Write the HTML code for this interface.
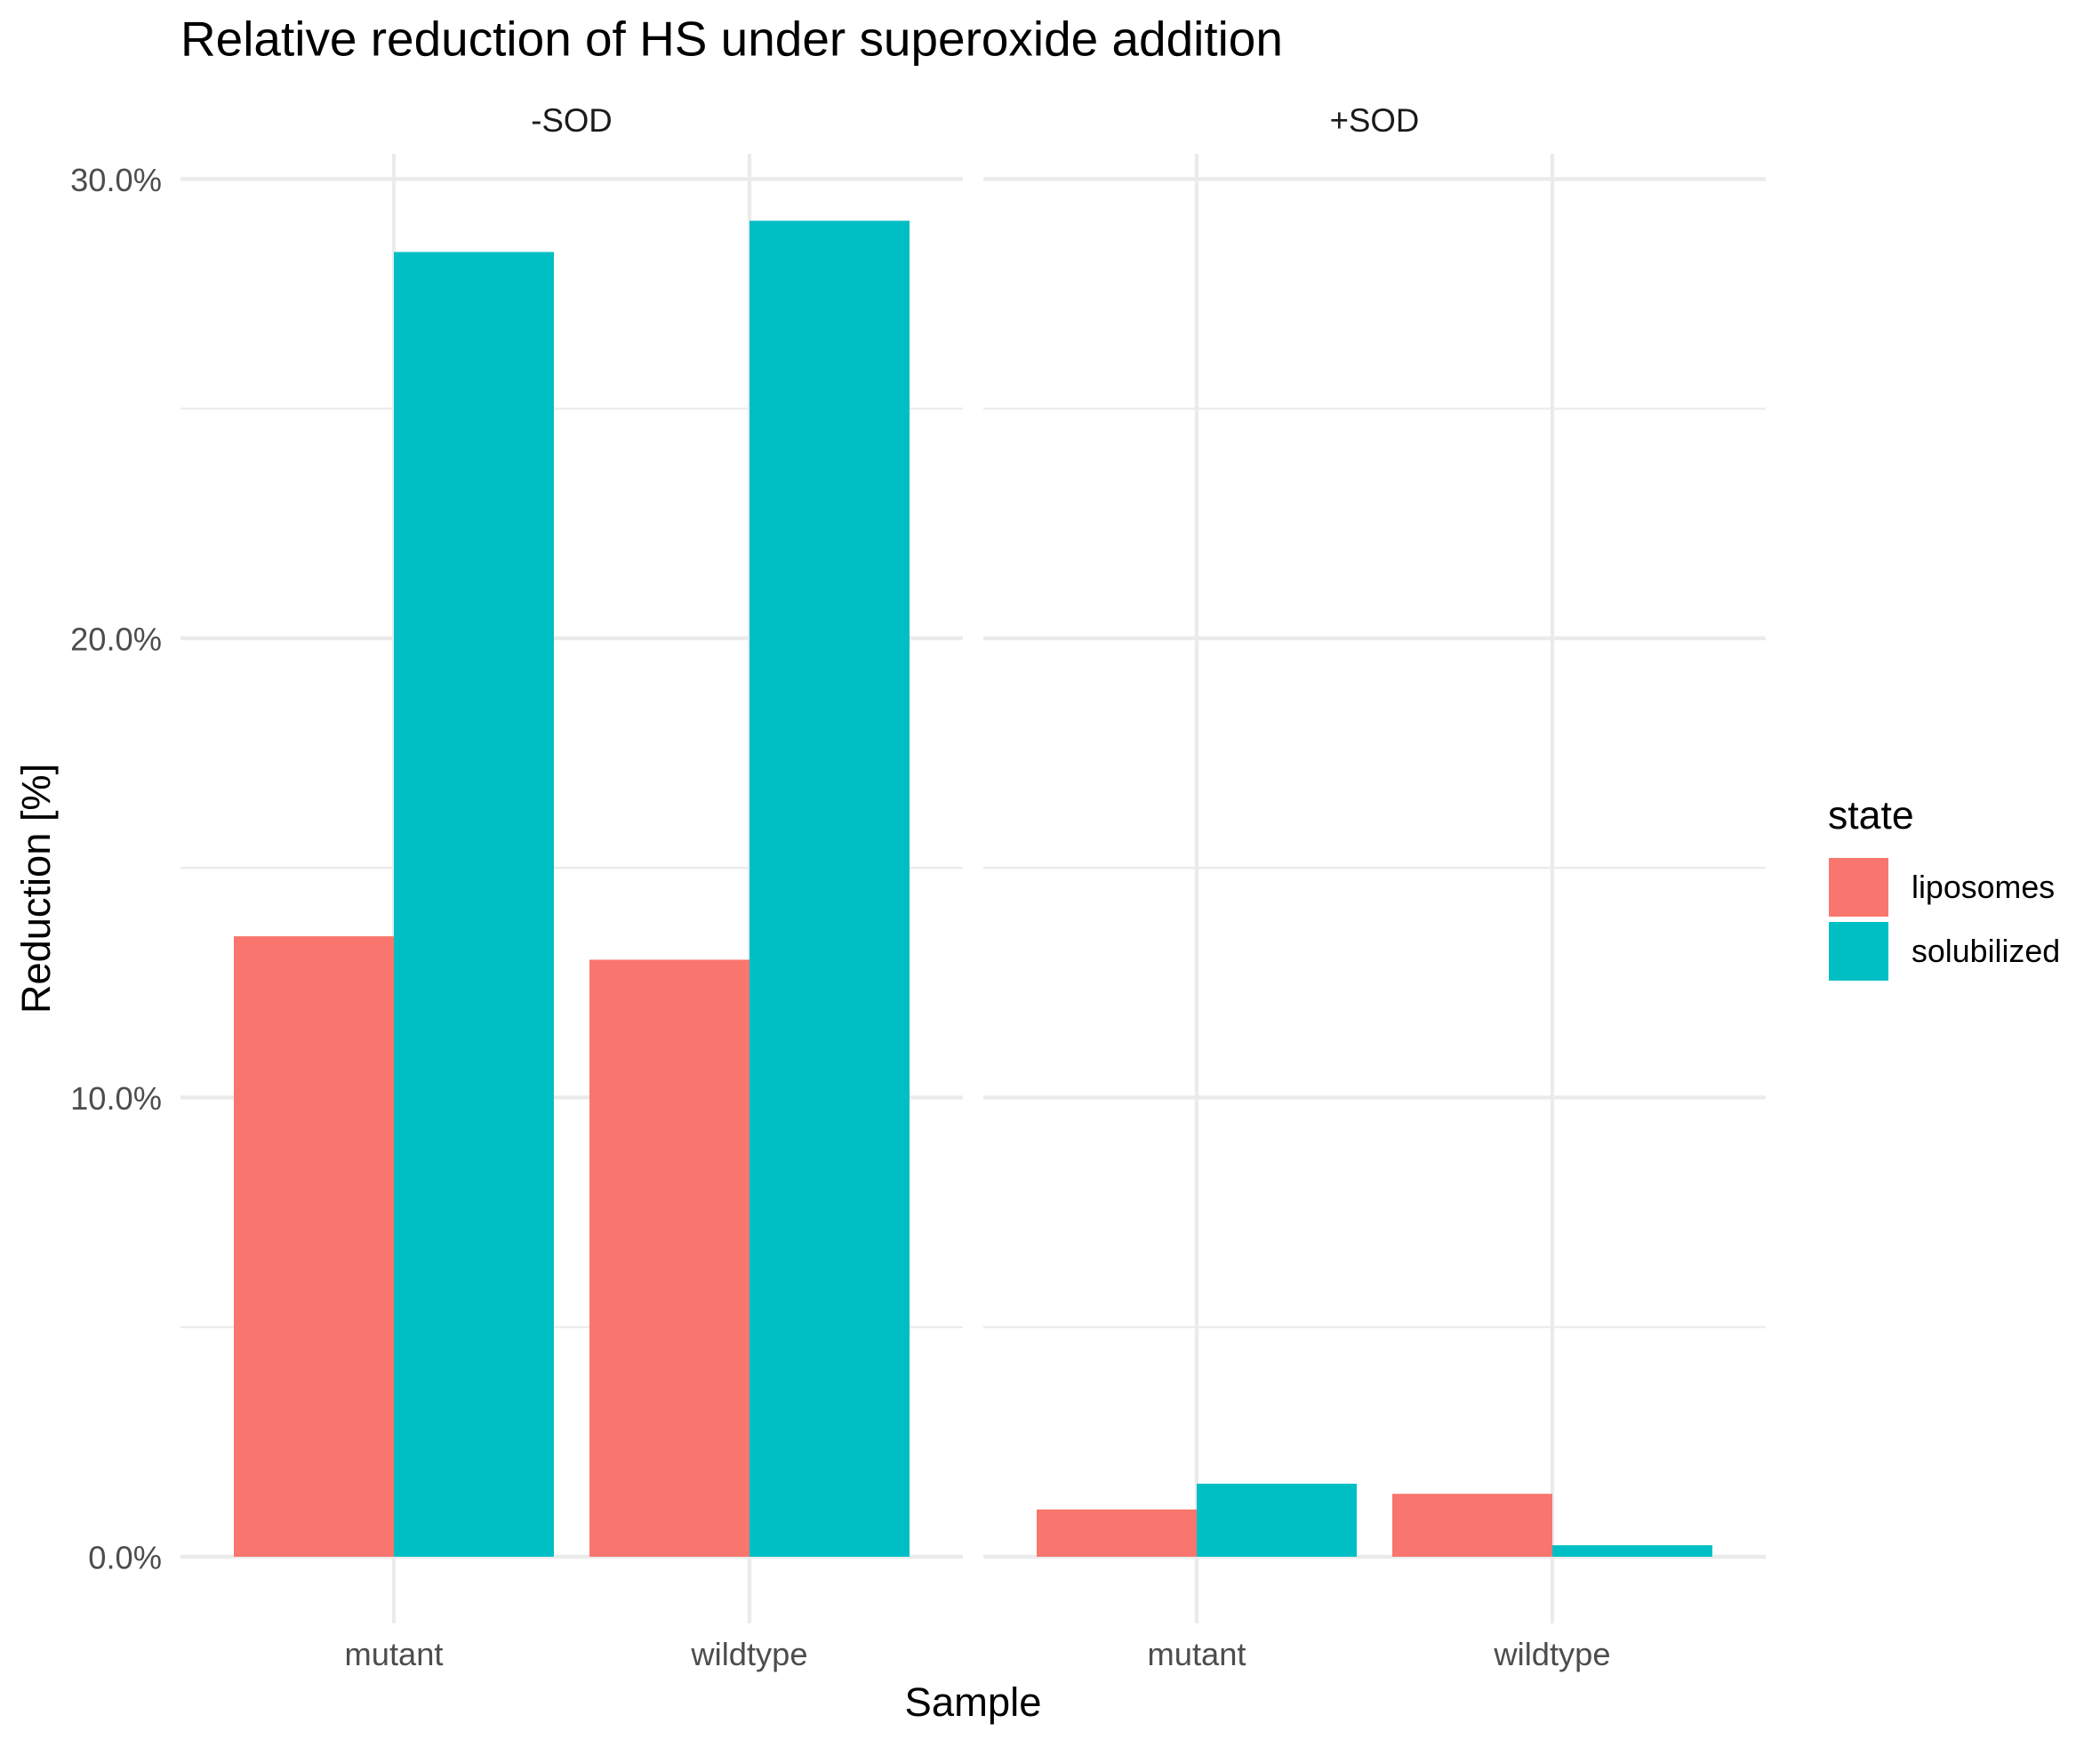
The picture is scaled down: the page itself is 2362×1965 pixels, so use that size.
<!DOCTYPE html>
<html lang="en">
<head>
<meta charset="utf-8">
<title>Relative reduction of HS under superoxide addition</title>
<style>
html,body{margin:0;padding:0;background:#fff;}
svg{display:block;}
text{font-family:"Liberation Sans",Arial,Helvetica,sans-serif;}
</style>
</head>
<body>
<svg id="chart" xmlns="http://www.w3.org/2000/svg" width="2362" height="1965" viewBox="0 0 2362 1965">
<rect width="2362" height="1965" fill="#ffffff"></rect>
<text x="203" y="62.3" font-size="54.95" fill="#000000">Relative reduction of HS under superoxide addition</text>
<text x="1094.5" y="1930" font-size="45.4" fill="#000000" text-anchor="middle">Sample</text>
<text transform="translate(56 999.5) rotate(-90)" font-size="45.2" fill="#000000" text-anchor="middle">Reduction [%]</text>
<text x="2056" y="932" font-size="44.6" fill="#000000">state</text>
<g id="layer"></g>
</svg>
<script>
const facets = ['-SOD', '+SOD'];
const categories = ['mutant', 'wildtype'];
const seriesNames = ['liposomes', 'solubilized'];
const liposomesMinusSOD = [13.51, 13.0];
const solubilizedMinusSOD = [28.41, 29.09];
const liposomesPlusSOD = [1.03, 1.37];
const solubilizedPlusSOD = [1.59, 0.25];
const majorTicks = [0, 10, 20, 30];
const minorTicks = [5, 15, 25];
const tickLabels = ['0.0%', '10.0%', '20.0%', '30.0%'];

const seriesByFacet = [
  [liposomesMinusSOD, solubilizedMinusSOD],
  [liposomesPlusSOD, solubilizedPlusSOD]
];
const seriesColors = ['#F8766D', '#00BFC4'];
const NS = 'http://www.w3.org/2000/svg';
const layer = document.getElementById('layer');

const panelLeft = [203, 1106];
const panelWidth = 880;
const panelTop = 173;
const panelBottom = 1826;
const y0 = 1751;
const y30 = 201.3;
const barWidth = 0.9;

function yScale(v) {
  return y0 + (y30 - y0) * v / 30;
}
function xScale(facetIndex, pos) {
  // discrete axis: categories at 1, 2 ...; limits 0.4 to 2.6
  return panelLeft[facetIndex] + (pos - 0.4) / 2.2 * panelWidth;
}
function add(tag, attrs, name, parent) {
  const el = document.createElementNS(NS, tag);
  for (const k in attrs) el.setAttribute(k, attrs[k]);
  
  
  (parent || layer).appendChild(el);
  return el;
}
function gridLine(x1, y1, x2, y2, w, name) {
  add('line', {x1: x1, y1: y1, x2: x2, y2: y2, stroke: '#EBEBEB', 'stroke-width': w}, name);
}
function label(str, x, y, size, fill, anchor, name) {
  const t = add('text', {x: x, y: y, 'font-size': size, fill: fill, 'text-anchor': anchor}, name);
  t.textContent = str;
}

facets.forEach(function (facet, f) {
  const L = panelLeft[f];
  const R = L + panelWidth;
  minorTicks.forEach(function (v) {
    gridLine(L, yScale(v), R, yScale(v), 2.2, 'minor-gridline-' + v);
  });
  majorTicks.forEach(function (v) {
    gridLine(L, yScale(v), R, yScale(v), 4.4, 'major-gridline-' + v);
  });
  categories.forEach(function (c, i) {
    const x = xScale(f, i + 1);
    gridLine(x, panelTop, x, panelBottom, 4.3, 'x-gridline-' + c);
  });
  label(facet, L + panelWidth / 2, 148, 36.6, '#1A1A1A', 'middle', 'facet-label-' + (f === 0 ? 'minus-sod' : 'plus-sod'));
  categories.forEach(function (c, i) {
    label(c, xScale(f, i + 1), 1873, 36.3, '#4D4D4D', 'middle', 'x-tick-label-' + c);
  });
  seriesByFacet[f].forEach(function (vals, s) {
    vals.forEach(function (v, i) {
      const w = barWidth / seriesNames.length;
      const x1 = xScale(f, i + 1 - barWidth / 2 + s * w);
      const x2 = xScale(f, i + 1 - barWidth / 2 + (s + 1) * w);
      add('rect', {x: x1, y: yScale(v), width: x2 - x1, height: yScale(0) - yScale(v), fill: seriesColors[s]},
        'bar-' + (f === 0 ? 'minus-sod-' : 'plus-sod-') + categories[i] + '-' + seriesNames[s]);
    });
  });
});

majorTicks.forEach(function (v, i) {
  label(tickLabels[i], 182, yScale(v) + 13.6, 36.3, '#4D4D4D', 'end', 'y-tick-label-' + v);
});

const legendTop = [965, 1037];
seriesNames.forEach(function (name, s) {
  add('rect', {x: 2057, y: legendTop[s], width: 67, height: 66, fill: seriesColors[s]}, 'legend-key-' + name);
  label(name, 2150, legendTop[s] + 45, 35.8, '#000000', 'start', 'legend-label-' + name);
});
</script>
</body>
</html>
